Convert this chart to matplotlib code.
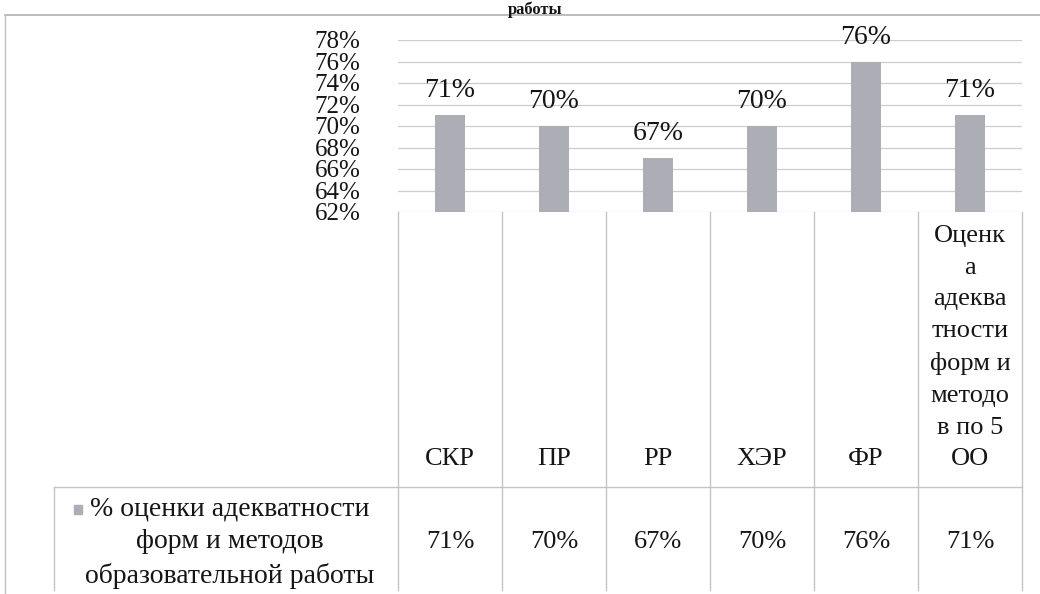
import matplotlib.pyplot as plt
import numpy as np
from matplotlib.patches import Rectangle
from matplotlib.ticker import FuncFormatter

# данные диаграммы
categories = ['СКР', 'ПР', 'РР', 'ХЭР', 'ФР',
              'Оценк\nа\nадеква\nтности\nформ и\nметодо\nв по 5\nОО']
values = [71, 70, 67, 70, 76, 71]
series_name = '% оценки адекватности\nформ и методов\nобразовательной работы'
y_ticks = [62, 64, 66, 68, 70, 72, 74, 76, 78]

plt.rcParams['font.family'] = ['Liberation Serif', 'DejaVu Serif']

W, H = 1040, 594
fig = plt.figure(figsize=(W / 100, H / 100), dpi=100)


def px_box(x0, y0, x1, y1):
    """перевод пиксельных границ (сверху вниз) в координаты фигуры"""
    return [x0 / W, 1 - y1 / H, (x1 - x0) / W, (y1 - y0) / H]


bar_color = '#adadb5'
grid_color = '#cdcdcd'
text_color = '#151515'
line_color = '#c4c4c4'

# область столбцов
ax = fig.add_axes(px_box(398, 40, 1022, 212))
x = np.arange(len(values))
ax.bar(x, values, width=0.29, color=bar_color, zorder=2)
ax.set_xlim(-0.5, len(values) - 0.5)
ax.set_ylim(62, 78)
ax.set_yticks(y_ticks)
ax.yaxis.set_major_formatter(FuncFormatter(lambda v, p: f'{v:.0f}%'))
ax.tick_params(axis='y', length=0, pad=27, labelsize=18, labelcolor=text_color)
ax.set_xticks([])
ax.grid(axis='y', color=grid_color, linewidth=0.9, zorder=1)
for s in ax.spines.values():
    s.set_visible(False)
for xi, v in zip(x, values):
    ax.text(xi, v + 1.1, f'{v}%', ha='center', va='bottom', fontsize=20,
            color=text_color, zorder=3)

# таблица данных под графиком
tab = fig.add_axes(px_box(398, 212, 1022, 590))
tab.set_xlim(-0.5, len(values) - 0.5)
tab.set_ylim(0, 1)
tab.axis('off')
row_split = 0.272
for xi in np.arange(len(values) + 1) - 0.5:
    tab.plot([xi, xi], [0, 1], color=line_color, linewidth=1.0, clip_on=False)
tab.plot([-3.81, len(values) - 0.5], [row_split, row_split],
         color=line_color, linewidth=1.0, clip_on=False)
tab.plot([-3.81, -3.81], [0, row_split], color=line_color, linewidth=1.0, clip_on=False)

for xi, c, v in zip(x, categories, values):
    tab.text(xi, 0.33, c, ha='center', va='baseline', fontsize=19,
             linespacing=1.57, color=text_color)
    tab.text(xi, row_split / 2 - 0.01, f'{v}%', ha='center', va='center',
             fontsize=19, color=text_color)

# подпись ряда (легенда) в левой ячейке
tab.text(-2.12, row_split / 2 - 0.01, series_name, ha='center', va='center',
         fontsize=20, linespacing=1.42, color=text_color)
tab.add_patch(Rectangle((-3.62, 0.2), 0.085, 0.025, color=bar_color, clip_on=False))

# рамка и заголовок над ней
fig.add_artist(plt.Line2D([5 / W, 1], [1 - 15 / H, 1 - 15 / H], color='#b0b0b0', linewidth=1.2))
fig.add_artist(plt.Line2D([5 / W, 5 / W], [0, 1 - 15 / H], color='#c0c0c0', linewidth=1.0))
fig.text(535 / W, 1 - 1 / H, 'работы', ha='center', va='top',
         fontsize=12, fontweight='bold', color=text_color)

fig.savefig('out.png', dpi=100)
